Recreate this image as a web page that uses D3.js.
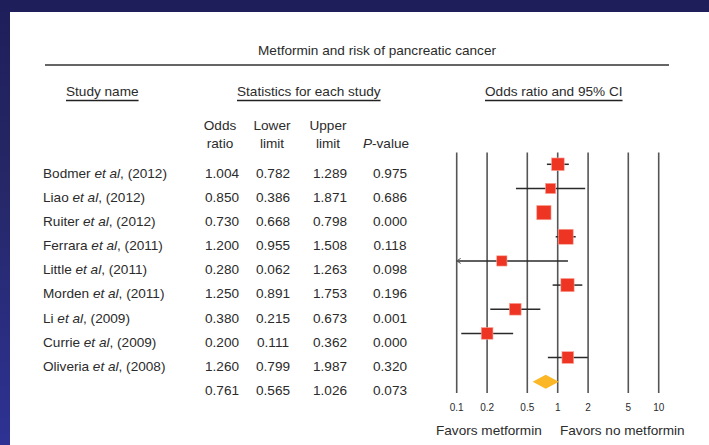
<!DOCTYPE html>
<html><head><meta charset="utf-8">
<script src="https://cdn.jsdelivr.net/npm/d3@7"></script>
<style>
html,body{margin:0;padding:0;}
body{width:709px;height:445px;overflow:hidden;background:linear-gradient(to bottom,#1e1e5a 0%,#252766 40%,#2e3293 100%);}
svg{display:block;}
text{font-family:"Liberation Sans",Arial,Helvetica,sans-serif;fill:#2b2b2b;}
</style></head>
<body>
<svg id="chart" width="709" height="445"></svg>
<script>
// ---- data ----
const studyAuthors = ["Bodmer","Liao","Ruiter","Ferrara","Little","Morden","Li","Currie","Oliveria"];
const studyYears   = [2012,2012,2012,2011,2011,2011,2009,2009,2008];
const oddsRatio    = [1.004,0.850,0.730,1.200,0.280,1.250,0.380,0.200,1.260];
const lowerLimit   = [0.782,0.386,0.668,0.955,0.062,0.891,0.215,0.111,0.799];
const upperLimit   = [1.289,1.871,0.798,1.508,1.263,1.753,0.673,0.362,1.987];
const pValue       = [0.975,0.686,0.000,0.118,0.098,0.196,0.001,0.000,0.320];
const studyWeight  = [11.6,7.6,14.7,16.2,7.6,12.7,9.9,9.9,9.9];
const summary      = {or:0.761, lower:0.565, upper:1.026, p:0.073};
const tickValues   = [0.1,0.2,0.5,1,2,5,10];
const tickLabels   = ["0.1","0.2","0.5","1","2","5","10"];
const colHeaders   = [["Odds","ratio"],["Lower","limit"],["Upper","limit"],["P-value"]];

const svg = d3.select("#chart");
// white panel
svg.append("rect").attr("x",10).attr("y",12).attr("width",699).attr("height",433).attr("fill","#fff");

const fs = 13.6;
// title
svg.append("text").attr("x",377).attr("y",55).attr("text-anchor","middle").attr("font-size",fs)
  .text("Metformin and risk of pancreatic cancer");
svg.append("line").attr("x1",45).attr("x2",669).attr("y1",65).attr("y2",65)
  .attr("stroke","#333").attr("stroke-width",1.6);

// section headers with underline
const headers = [{t:"Study name",x:66},{t:"Statistics for each study",x:237},{t:"Odds ratio and 95% CI",x:485}];
headers.forEach(h=>{
  const t = svg.append("text").attr("x",h.x).attr("y",95.5).attr("font-size",fs).text(h.t);
  const w = t.node().getComputedTextLength();
  svg.append("line").attr("x1",h.x).attr("x2",h.x+w).attr("y1",100.5).attr("y2",100.5)
    .attr("stroke","#222").attr("stroke-width",1.4);
});

// columns
const colX = [222,273,330,390];
const headX = [220,272,328,386];
colHeaders.forEach((lines,i)=>{
  if(lines.length===2){
    lines.forEach((l,j)=>svg.append("text").attr("x",headX[i]).attr("y",130+j*18)
      .attr("text-anchor","middle").attr("font-size",fs).text(l));
  } else {
    const t = svg.append("text").attr("x",headX[i]).attr("y",148).attr("text-anchor","middle").attr("font-size",fs);
    t.append("tspan").attr("font-style","italic").text("P");
    t.append("tspan").text("-value");
  }
});

// row scale
const rowIdx = d3.range(studyAuthors.length+1);
const y = d3.scalePoint().domain(rowIdx).range([164.3,381.7]);
const textOff = 13.3;

// x scale (log)
const x = d3.scaleLog().domain([0.1,10]).range([456.7,658.7]);
const size = d3.scaleSqrt().domain([0,d3.max(studyWeight)]).range([0,15]);

// study labels and numbers
studyAuthors.forEach((a,i)=>{
  const t = svg.append("text").attr("x",43).attr("y",y(i)+textOff).attr("font-size",fs);
  t.append("tspan").text(a+" ");
  t.append("tspan").attr("font-style","italic").text("et al");
  t.append("tspan").text(", ("+studyYears[i]+")");
  [oddsRatio[i],lowerLimit[i],upperLimit[i],pValue[i]].forEach((v,c)=>{
    svg.append("text").attr("x",colX[c]).attr("y",y(i)+textOff).attr("text-anchor","middle")
      .attr("font-size",fs).text(v.toFixed(3));
  });
});
const si = studyAuthors.length;
[summary.or,summary.lower,summary.upper,summary.p].forEach((v,c)=>{
  svg.append("text").attr("x",colX[c]).attr("y",y(si)+textOff).attr("text-anchor","middle")
    .attr("font-size",fs).text(v.toFixed(3));
});

// gridlines
svg.append("g").selectAll("line").data(tickValues).join("line")
  .attr("x1",d=>x(d)).attr("x2",d=>x(d)).attr("y1",152.5).attr("y2",393)
  .attr("stroke","#555").attr("stroke-width",1.6);

// axis tick labels
svg.append("g").selectAll("text").data(tickValues).join("text")
  .attr("x",d=>x(d)).attr("y",410.5).attr("text-anchor","middle").attr("font-size",10)
  .attr("fill","#444").text((d,i)=>tickLabels[i]);

// CI lines
const [xmin,xmax] = x.domain();
studyAuthors.forEach((a,i)=>{
  const lo = Math.max(lowerLimit[i],xmin), hi = Math.min(upperLimit[i],xmax);
  svg.append("line").attr("x1",x(lo)).attr("x2",x(hi)).attr("y1",y(i)).attr("y2",y(i))
    .attr("stroke","#2a2a2a").attr("stroke-width",1.5);
  if(lowerLimit[i]<xmin){
    const ax = x(xmin);
    svg.append("path").attr("d",`M${ax+4},${y(i)-2.5}L${ax},${y(i)}L${ax+4},${y(i)+2.5}`)
      .attr("fill","none").attr("stroke","#555").attr("stroke-width",1);
  }
});
// squares
svg.append("g").selectAll("rect").data(studyAuthors).join("rect")
  .attr("x",(d,i)=>x(oddsRatio[i])-size(studyWeight[i])/2)
  .attr("y",(d,i)=>y(i)-size(studyWeight[i])/2)
  .attr("width",(d,i)=>size(studyWeight[i]))
  .attr("height",(d,i)=>size(studyWeight[i]))
  .attr("fill","#ee3524").attr("stroke","#f8a89c").attr("stroke-width",0.6);

// summary diamond
const yd = y(si), hd = 7;
svg.append("path")
  .attr("d",`M${x(summary.lower)},${yd}L${x(summary.or)},${yd-hd}L${x(summary.upper)},${yd}L${x(summary.or)},${yd+hd}Z`)
  .attr("fill","#fbb726");

// favors labels
svg.append("text").attr("x",436).attr("y",435).attr("font-size",fs).text("Favors metformin");
svg.append("text").attr("x",560).attr("y",435).attr("font-size",fs).text("Favors no metformin");
</script>
</body></html>
